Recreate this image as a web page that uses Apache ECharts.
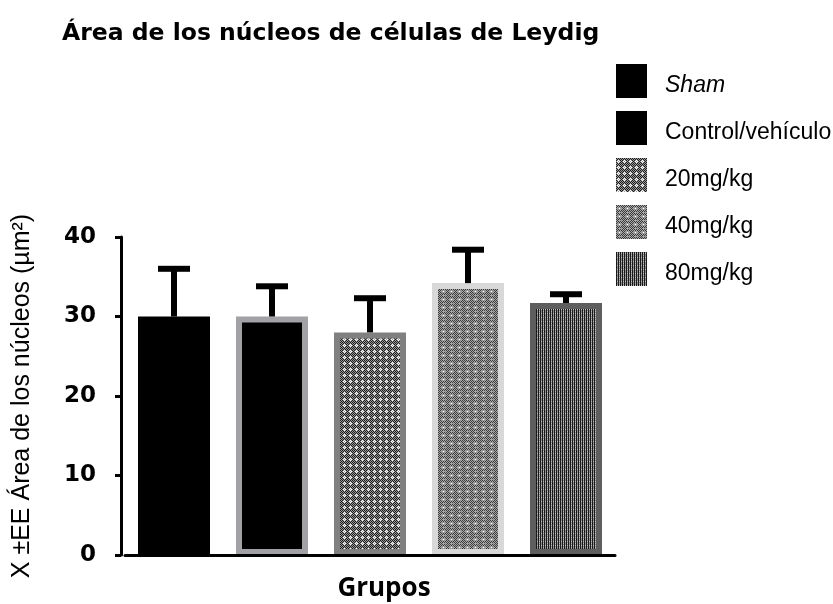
<!DOCTYPE html>
<html>
<head>
<meta charset="utf-8">
<script src="https://cdn.jsdelivr.net/npm/echarts@6/dist/echarts.min.js"></script>
<style>
  html, body { margin: 0; padding: 0; background: #fff; }
  #main { width: 833px; height: 604px; }
</style>
</head>
<body>
<div id="main"></div>
<script>
// data
var groups = ['Sham', 'Control/vehículo', '20mg/kg', '40mg/kg', '80mg/kg']
var means = [30.0, 30.0, 28.0, 34.2, 31.7]
var sem = [6.0, 3.8, 4.3, 4.2, 1.1]
var yTicks = [0, 10, 20, 30, 40]

// small canvas tiles used as fill patterns
function makePattern(rows, colors) {
  var c = document.createElement('canvas')
  c.width = rows[0].length
  c.height = rows.length
  var ctx = c.getContext('2d')
  for (var y = 0; y < rows.length; y++) {
    for (var x = 0; x < rows[y].length; x++) {
      ctx.fillStyle = colors[rows[y][x]]
      ctx.fillRect(x, y, 1, 1)
    }
  }
  return { image: c, repeat: 'repeat' }
}

var pat20 = makePattern([
  '010101',
  '101010',
  '012101',
  '121210',
  '012101',
  '101010'
], ['#1c1c1c', '#9a9a9a', '#ffffff'])

var pat40 = makePattern([
  '01010101',
  '10101010',
  '01313101',
  '13121310',
  '01313101',
  '10101010',
  '01010101',
  '10111310'
], ['#3a3a3a', '#a8a8a8', '#ffffff', '#8a8a8a'])

var pat80 = makePattern([
  '0101',
  '0202',
  '0101',
  '0102'
], ['#1a1a1a', '#8a8a8a', '#bcbcbc'])

var fills = ['#000000', '#000000', pat20, pat40, pat80]
var borders = ['#000000', '#a2a2a6', '#808080', '#d8d8d8', '#5e5e5e']

var chartDom = document.getElementById('main')
var myChart = echarts.init(chartDom)

var barSeries = groups.map(function (name, i) {
  return {
    name: name,
    type: 'bar',
    barWidth: 72,
    barGap: '-100%',
    clip: true,
    z: 2,
    itemStyle: {
      color: fills[i],
      borderColor: borders[i],
      borderWidth: 6
    },
    data: means.map(function (v, j) { return j === i ? v : '-' })
  }
})

var errSeries = {
  type: 'custom',
  z: 5,
  silent: true,
  data: means.map(function (m, i) { return [i, m, m + sem[i]] }),
  renderItem: function (params, api) {
    var lo = api.coord([api.value(0), api.value(1)])
    var hi = api.coord([api.value(0), api.value(2)])
    var half = 16
    return {
      type: 'group',
      children: [
        {
          type: 'line',
          shape: { x1: lo[0], y1: lo[1], x2: hi[0], y2: hi[1] },
          style: { stroke: '#000', lineWidth: 6 }
        },
        {
          type: 'line',
          shape: { x1: hi[0] - half, y1: hi[1], x2: hi[0] + half, y2: hi[1] },
          style: { stroke: '#000', lineWidth: 6 }
        }
      ]
    }
  }
}

var legendText = {
  fontFamily: 'Liberation Sans',
  fontSize: 23,
  color: '#000',
  padding: [10, 0, 0, 13]
}

var option = {
  animation: false,
  title: {
    text: 'Área de los núcleos de células de Leydig',
    left: 57,
    top: 17,
    textStyle: {
      fontFamily: 'DejaVu Sans',
      fontWeight: 'bold',
      fontSize: 23.5,
      color: '#000'
    }
  },
  legend: {
    orient: 'vertical',
    left: 611,
    top: 59,
    itemWidth: 31,
    itemHeight: 34,
    itemGap: 13,
    icon: 'rect',
    formatter: '{t|{name}}',
    textStyle: {
      fontFamily: 'Liberation Sans',
      fontSize: 23,
      color: '#000',
      rich: { t: legendText }
    },
    data: groups.map(function (name, i) {
      var d = {
        name: name,
        itemStyle: { borderWidth: 0 }
      }
      if (i === 0) {
        d.textStyle = {
          fontStyle: 'italic',
          rich: { t: Object.assign({ fontStyle: 'italic' }, legendText) }
        }
      }
      return d
    })
  },
  grid: {
    left: 125,
    top: 237,
    width: 490,
    bottom: 604 - 555,
    outerBoundsMode: 'none'
  },
  xAxis: {
    type: 'category',
    data: groups,
    name: 'Grupos',
    nameLocation: 'middle',
    nameGap: 21,
    nameTextStyle: {
      fontFamily: 'Open Sans',
      fontWeight: 'bold',
      fontSize: 26,
      color: '#000',
      padding: [0, 0, 0, 28]
    },
    z: 6,
    axisLine: { lineStyle: { color: '#000', width: 3 } },
    axisTick: { alignWithLabel: true, length: 8, lineStyle: { color: '#000', width: 3 } },
    axisLabel: { show: false }
  },
  yAxis: {
    type: 'value',
    min: yTicks[0],
    max: yTicks[yTicks.length - 1],
    interval: 10,
    offset: 4,
    name: 'X ±EE Área de los núcleos (µm²)',
    nameLocation: 'middle',
    nameGap: 86,
    nameTextStyle: {
      fontFamily: 'Liberation Sans',
      fontSize: 25,
      color: '#000'
    },
    splitLine: { show: false },
    axisLine: { show: true, lineStyle: { color: '#000', width: 3 } },
    axisTick: { show: true, length: 6, lineStyle: { color: '#000', width: 3 } },
    axisLabel: {
      margin: 25,
      fontFamily: 'DejaVu Sans',
      fontWeight: 'bold',
      fontSize: 23,
      color: '#000',
      padding: [6, 0, 0, 0]
    }
  },
  series: barSeries.concat([errSeries])
}

option && myChart.setOption(option)
</script>
</body>
</html>
